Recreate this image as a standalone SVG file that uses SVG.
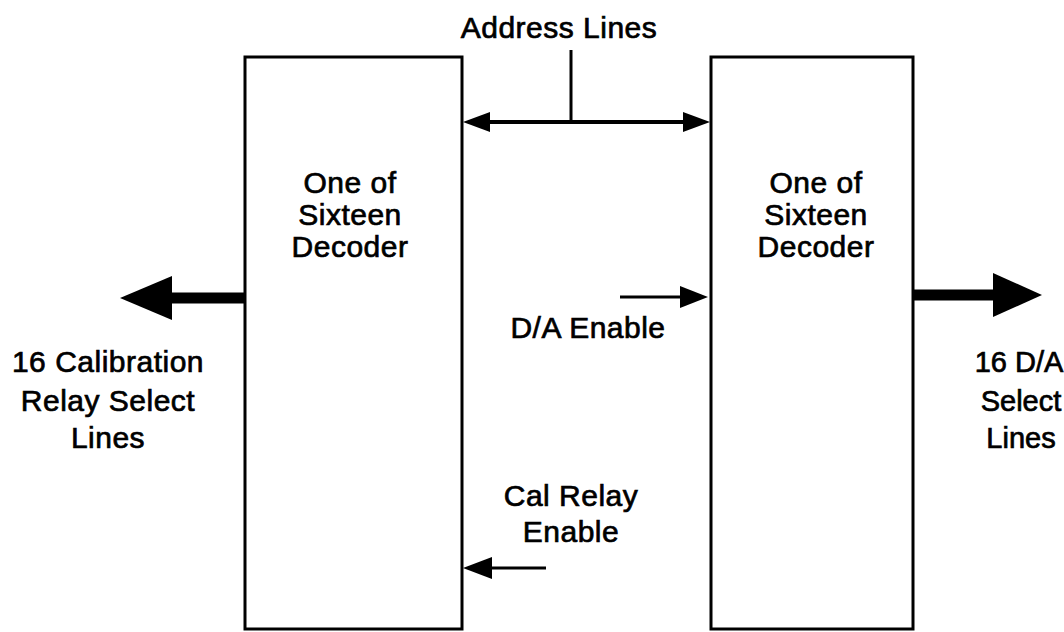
<svg xmlns="http://www.w3.org/2000/svg" width="1064" height="632" viewBox="0 0 1064 632">
<style>
text{font-family:"Liberation Sans",Arial,sans-serif;font-size:30px;fill:#000;stroke:#000;stroke-width:0.7;text-anchor:middle;letter-spacing:0.5px}
.tr{letter-spacing:0;font-size:29px}
.box{fill:none;stroke:#000;stroke-width:3}
.ln{stroke:#000;fill:none}
</style>
<rect width="1064" height="632" fill="#fff"/>
<g id="decoder-left">
<rect class="box" x="245" y="57" width="217" height="572"/>
<text x="350" y="193">One of</text>
<text x="350" y="225">Sixteen</text>
<text x="350" y="257">Decoder</text>
</g>
<g id="decoder-right">
<rect class="box" x="711" y="57" width="202" height="572"/>
<text x="816" y="193">One of</text>
<text x="816" y="225">Sixteen</text>
<text x="816" y="257">Decoder</text>
</g>
<g id="labels">
<text x="559" y="38">Address Lines</text>
<text x="588" y="338">D/A Enable</text>
<text x="571" y="506">Cal Relay</text>
<text x="571" y="542">Enable</text>
<text x="108" y="372">16 Calibration</text>
<text x="108" y="411">Relay Select</text>
<text x="108" y="448">Lines</text>
<text class="tr" x="1019" y="372">16 D/A</text>
<text class="tr" x="1021" y="411">Select</text>
<text class="tr" x="1021" y="448">Lines</text>
</g>
<g id="connectors">
<line class="ln" x1="571" y1="50" x2="571" y2="122" stroke-width="3"/>
<line class="ln" x1="488" y1="122" x2="685" y2="122" stroke-width="4"/>
<polygon points="463,122 490,112 490,132"/>
<polygon points="710,122 683,112 683,132"/>
<line class="ln" x1="170" y1="298" x2="246" y2="298" stroke-width="11"/>
<polygon points="120,298 172,276 172,320"/>
<line class="ln" x1="912" y1="295" x2="995" y2="295" stroke-width="11"/>
<polygon points="1042,295 993,273 993,317"/>
<line class="ln" x1="620" y1="297" x2="682" y2="297" stroke-width="3"/>
<polygon points="708,297 680,286 680,308"/>
<line class="ln" x1="490" y1="568" x2="546" y2="568" stroke-width="3"/>
<polygon points="463,568 492,557 492,579"/>
</g>
</svg>
